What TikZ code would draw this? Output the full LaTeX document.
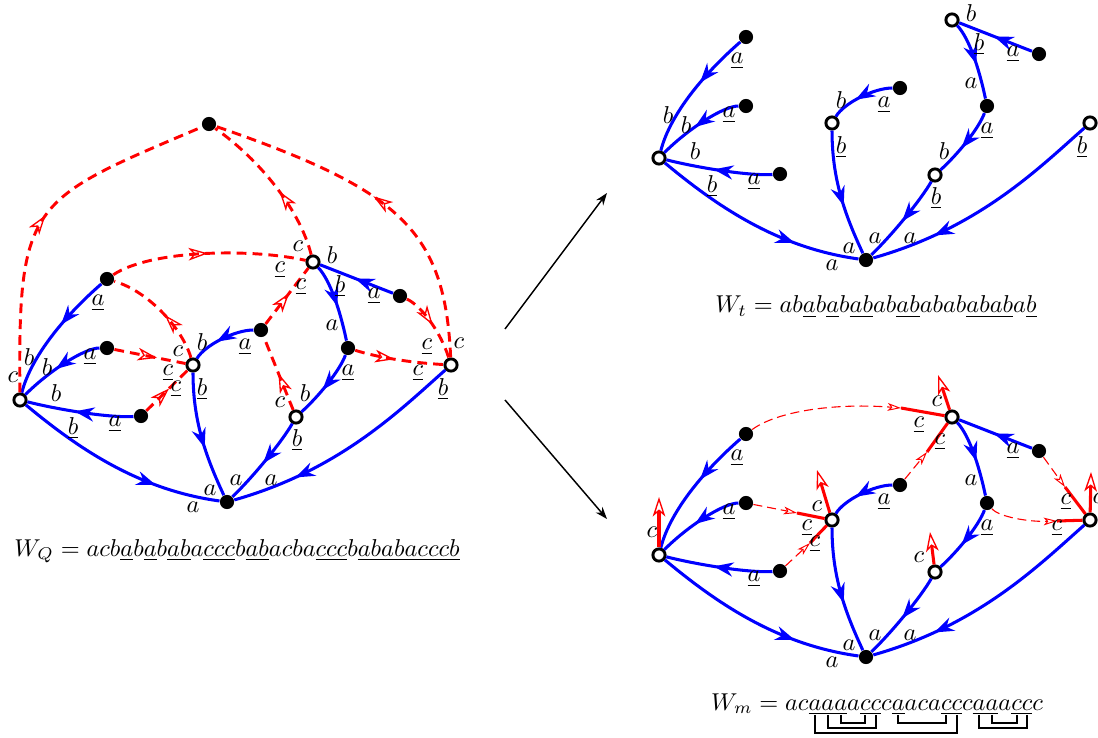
\documentclass[tikz,border=0pt]{standalone}
\usetikzlibrary{arrows.meta,decorations.markings}

\tikzset{
  wnode/.style={circle, draw=black, fill=white, line width=1.2pt, inner sep=0pt, minimum size=5pt},
  bnode/.style={circle, fill=black, inner sep=0pt, minimum size=5.8pt},
  lbl/.style={inner sep=0pt, outer sep=0pt},
  bluetip/.tip={Stealth[length=8pt, width=5.8pt, inset=2.6pt]},
  opentip/.tip={Stealth[open, length=8pt, width=5.2pt, inset=2.2pt, line width=0.55pt]},
  thintip/.tip={Stealth[open, length=5.5pt, width=3.2pt, inset=1.4pt, line width=0.4pt]},
  bedge/.style={blue, line width=1.25pt,
    postaction={decorate, decoration={markings, mark=at position #1 with {\arrow{bluetip}}}}},
  bedge/.default=0.5,
  redge/.style={red, line width=1.2pt, dash pattern=on 4pt off 2.5pt,
    postaction={decorate, decoration={markings, mark=at position #1 with {\arrow{opentip}}}}},
  redge/.default=0.5,
  rstub/.style={red, line width=1.25pt},
  rthin/.style={red, line width=0.45pt, dash pattern=on 3.7pt off 2pt, -{thintip}},
  brkt/.style={black, line width=0.8pt},
}

% the tree, drawn once per panel (#1 = name prefix)
\newcommand{\treenodes}[1]{%
  \node[wnode] (#1L) at (20,400) {};
  \node[bnode] (#1P1) at (107,279) {};
  \node[bnode] (#1P2) at (107,348) {};
  \node[bnode] (#1P3) at (141,416) {};
  \node[wnode] (#1M) at (193,365) {};
  \node[bnode] (#1Q1) at (261,330) {};
  \node[wnode] (#1U) at (313,262) {};
  \node[bnode] (#1Q2) at (400,296) {};
  \node[bnode] (#1Q3) at (348,348) {};
  \node[wnode] (#1V) at (296,417) {};
  \node[wnode] (#1R) at (451,365) {};
  \node[bnode] (#1B) at (227,502) {};
}
\newcommand{\treeedges}[1]{%
  \draw[bedge=0.42] (#1P1) .. controls (60,320) and (30,360) .. (#1L);
  \draw[bedge=0.55] (#1P2) .. controls (85,348) and (50,370) .. (#1L);
  \draw[bedge=0.55] (#1P3) .. controls (110,418) and (60,410) .. (#1L);
  \draw[bedge=0.7] (#1L) .. controls (80,450) and (140,490) .. (#1B);
  \draw[bedge=0.6] (#1M) .. controls (193,420) and (205,455) .. (#1B);
  \draw[bedge=0.6] (#1Q1) .. controls (235,330) and (205,345) .. (#1M);
  \draw[bedge=0.52] (#1V) .. controls (283,440) and (255,475) .. (#1B);
  \draw[bedge=0.74] (#1R) .. controls (400,410) and (340,470) .. (#1B);
  \draw[bedge=0.58] (#1Q3) .. controls (340,370) and (320,395) .. (#1V);
  \draw[bedge=0.52] (#1Q2) -- (#1U);
  \draw[bedge=0.55] (#1U) .. controls (330,280) and (340,310) .. (#1Q3);
}
\newcommand{\treealabels}[1]{%
  \node[lbl] (#1a1) at (98,303) {$\underline{a}$};
  \node[lbl] (#1a2) at (90,357) {$\underline{a}$};
  \node[lbl] (#1a3) at (115,424) {$\underline{a}$};
  \node[lbl] (#1a4) at (193,507) {$a$};
  \node[lbl] (#1a5) at (210,490) {$a$};
  \node[lbl] (#1a6) at (236,480) {$a$};
  \node[lbl] (#1a7) at (271,480) {$a$};
  \node[lbl] (#1a8) at (245,347) {$\underline{a}$};
  \node[lbl] (#1a9) at (374,296) {$\underline{a}$};
  \node[lbl] (#1a10) at (332,325) {$a$};
  \node[lbl] (#1a11) at (348,373) {$\underline{a}$};
}
\newcommand{\treeblabels}[1]{%
  \node[lbl] (#1b1) at (29,357) {$b$};
  \node[lbl] (#1b2) at (47,367) {$b$};
  \node[lbl] (#1b3) at (56,393) {$b$};
  \node[lbl] (#1b4) at (73,428) {$\underline{b}$};
  \node[lbl] (#1b5) at (202,342) {$b$};
  \node[lbl] (#1b6) at (202,389) {$\underline{b}$};
  \node[lbl] (#1b7) at (332,255) {$b$};
  \node[lbl] (#1b8) at (340,286) {$\underline{b}$};
  \node[lbl] (#1b9) at (305,393) {$b$};
  \node[lbl] (#1b10) at (297,440) {$\underline{b}$};
  \node[lbl] (#1b11) at (443,389) {$\underline{b}$};
}
\newcommand{\treeclabels}[1]{%
  \node[lbl] (#1c1) at (13,377) {$c$};
  \node[lbl] (#1c2) at (178,351) {$c$};
  \node[lbl] (#1c3) at (168,373) {$\underline{c}$};
  \node[lbl] (#1c4) at (176,389) {$\underline{c}$};
  \node[lbl] (#1c5) at (298,246) {$c$};
  \node[lbl] (#1c6) at (280,270) {$\underline{c}$};
  \node[lbl] (#1c7) at (301,287) {$\underline{c}$};
  \node[lbl] (#1c8) at (280,402) {$c$};
  \node[lbl] (#1c9) at (459,343) {$c$};
  \node[lbl] (#1c10) at (427,347) {$\underline{c}$};
  \node[lbl] (#1c11) at (418,373) {$\underline{c}$};
}

\begin{document}
\begin{tikzpicture}[x=0.41pt, y=-0.41pt]
\useasboundingbox (0,0) rectangle (1098,738);

% left panel: W_Q
\begin{scope}
  \treenodes{q}
  \node[bnode] (qT) at (209,124) {};
  \treeedges{q}
  % c-edges
  \draw[redge=0.5] (qL) .. controls (18,200) and (30,200) .. (qT);
  \draw[redge=0.44] (qU) .. controls (300,210) and (260,160) .. (qT);
  \draw[redge=0.52] (qR) .. controls (445,230) and (400,190) .. (qT);
  \draw[redge=0.5] (qP1) .. controls (150,250) and (250,248) .. (qU);
  \draw[redge=0.45] (qM) .. controls (183,330) and (150,292) .. (qP1);
  \draw[redge=0.6] (qP2) -- (qM);
  \draw[redge=0.55] (qP3) -- (qM);
  \draw[redge=0.55] (qQ1) -- (qU);
  \draw[redge=0.5] (qV) -- (qQ1);
  \draw[redge=0.5] (qQ2) .. controls (420,305) and (440,330) .. (qR);
  \draw[redge=0.45] (qQ3) .. controls (370,355) and (400,362) .. (qR);
  \treealabels{q}
  \treeblabels{q}
  \treeclabels{q}
\end{scope}
\node[lbl, anchor=base] (wq) at (237,556)
  {$W_Q = acb\underline{a}b\underline{a}b\underline{ab}a\underline{ccc}b\underline{ab}acba\underline{ccc}b\underline{ababa}\underline{ccc}\underline{b}$};

% top right: W_t
\begin{scope}[shift={(639,-242)}]
  \treenodes{t}
  \treeedges{t}
  \treealabels{t}
  \treeblabels{t}
\end{scope}
\node[lbl, anchor=base] (wt) at (876,313)
  {$W_t = ab\underline{a}b\underline{a}b\underline{ab}ab\underline{ab}abab\underline{abab}a\underline{b}$};

% bottom right: W_m
\begin{scope}[shift={(639,155)}]
  \treenodes{m}
  \treeedges{m}
  % outgoing c
  \coordinate (moL) at (20,342);
  \coordinate (moM) at (178,315);
  \coordinate (moU) at (299,220);
  \coordinate (moV) at (291,377);
  \coordinate (moR) at (452,317);
  \foreach \n in {L,M,U,V,R}
    \draw[rstub, -{opentip}] (m\n) -- (mo\n);
  % incoming c
  \coordinate (mjP1) at (262,253);
  \coordinate (mjQ1) at (288,297);
  \coordinate (mjP2) at (158,358);
  \coordinate (mjP3) at (171,388);
  \coordinate (mjQ2) at (426,332);
  \coordinate (mjQ3) at (418,366);
  \draw[rthin] (mP1) .. controls (140,255) and (200,248) .. (mjP1);
  \draw[rthin] (mQ1) -- (mjQ1);
  \draw[rthin] (mP2) -- (mjP2);
  \draw[rthin] (mP3) -- (mjP3);
  \draw[rthin] (mQ2) -- (mjQ2);
  \draw[rthin] (mQ3) .. controls (360,362) and (390,367) .. (mjQ3);
  \foreach \s/\t in {P1/U,Q1/U,P2/M,P3/M,Q2/R,Q3/R}
    \draw[rstub] (mj\s) -- (m\t);
  \treealabels{m}
  \treeclabels{m}
\end{scope}
\node[lbl, anchor=base west] (wm0) at (711,710) {$W_m = ac$};
\foreach \s [count=\i, remember=\i as \j (initially 0)] in
  {\underline{a},\underline{a},\underline{a},a,\underline{c},\underline{c},c,\underline{a},a,c,a,\underline{c},\underline{c},c,\underline{a},\underline{a},a,\underline{c},\underline{c},c}
  \node[lbl, anchor=base west] (wm\i) at (wm\j.base east) {$\s$};
\foreach \i/\j/\d in {1/13/18, 2/6/13, 3/5/8, 8/12/8, 15/19/13, 16/18/8}
  \draw[brkt] ([yshift=-2pt]wm\i.base) -- ++(0,\d) -| ([yshift=-2pt]wm\j.base);

% between panels
\coordinate (go1) at (505,329);
\coordinate (to1) at (607,193);
\coordinate (go2) at (505,400);
\coordinate (to2) at (607,519);
\draw[line width=0.6pt, -{Stealth[length=5pt, width=3.6pt]}] (go1) -- (to1);
\draw[line width=0.6pt, -{Stealth[length=5pt, width=3.6pt]}] (go2) -- (to2);
\end{tikzpicture}
\end{document}
